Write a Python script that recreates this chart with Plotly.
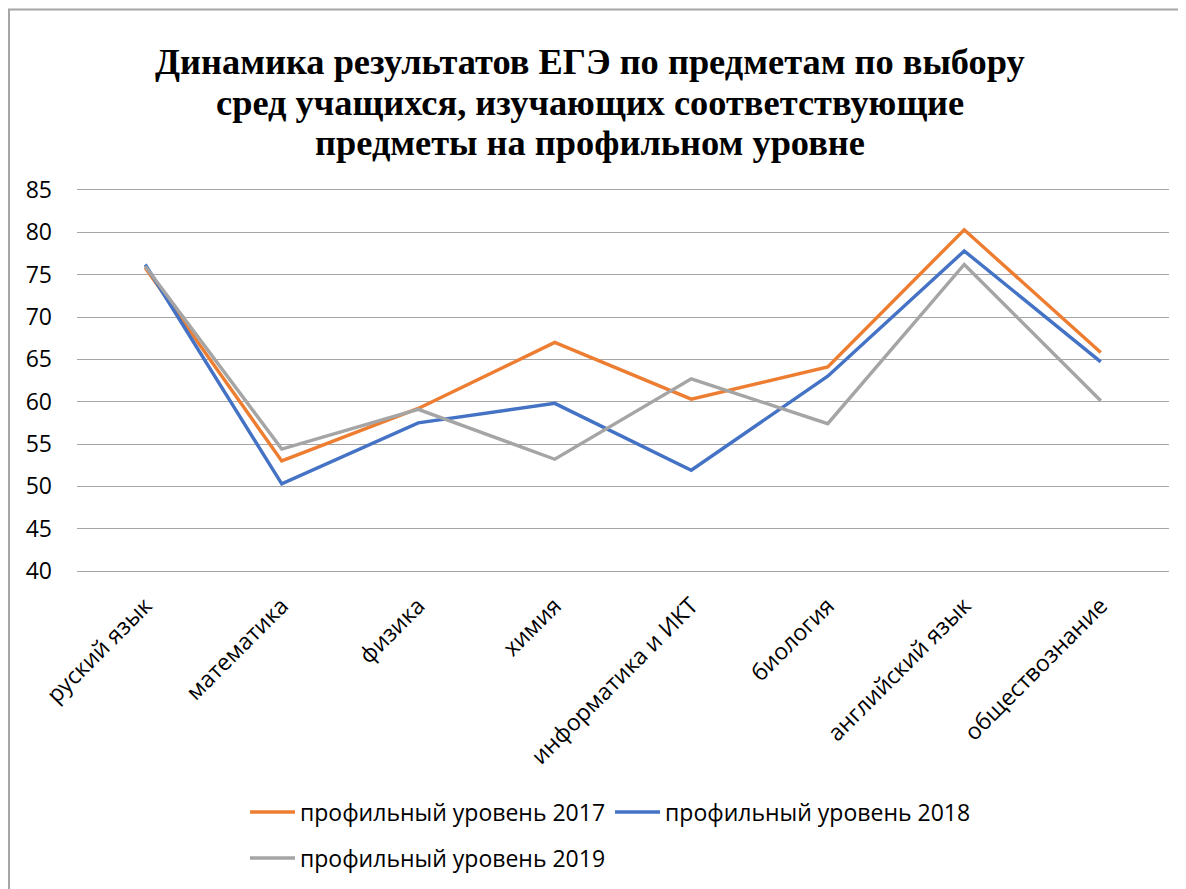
import plotly.graph_objects as go

categories = ["руский язык", "математика", "физика", "химия",
              "информатика и ИКТ", "биология", "английский язык", "обществознание"]
s2017 = [75.8, 53.0, 59.2, 67.0, 60.3, 64.1, 80.3, 65.8]
s2018 = [76.2, 50.3, 57.5, 59.8, 51.9, 63.0, 77.8, 64.7]
s2019 = [76.0, 54.4, 59.1, 53.2, 62.7, 57.4, 76.2, 60.1]
names = ["профильный уровень 2017", "профильный уровень 2018", "профильный уровень 2019"]
colors = ["#ED7D31", "#4472C4", "#A5A5A5"]
yticks = [40, 45, 50, 55, 60, 65, 70, 75, 80, 85]
title_lines = ["Динамика результатов ЕГЭ по предметам по выбору",
               "сред учащихся, изучающих соответствующие",
               "предметы на профильном уровне"]

W, H = 1186, 889
OFF = 8  # page body margin
PX0, PX1, PY0, PY1 = 77, 1169, 190, 571
L, R = PX0 - OFF, W - (PX1 - OFF)
T, B = PY0 - OFF, H - (PY1 - OFF)
pw, ph = W - L - R, H - T - B

def px(page_x):
    return (page_x - OFF - L) / pw

def py(page_y):
    return (H - B - (page_y - OFF)) / ph

fig = go.Figure()
for i, (vals, nm, col) in enumerate(zip([s2017, s2018, s2019], names, colors)):
    fig.add_trace(go.Scatter(
        x=categories, y=vals, name=nm, mode="lines",
        line=dict(color=col, width=3.4),
        legend="legend" if i < 2 else "legend2",
    ))

font_main = "Open Sans, Noto Sans, sans-serif"
FS = 23
GRID = "#a6a6a6"

annotations = []
for txt, yc in zip(title_lines, [62, 103, 143]):
    annotations.append(dict(
        text="<b>" + txt + "</b>", xref="paper", yref="paper", x=px(590), y=py(yc),
        xanchor="center", yanchor="middle", showarrow=False,
        font=dict(family="Liberation Serif, Times New Roman, serif", size=36.4, color="black"),
    ))

fig.update_layout(
    width=W, height=H,
    margin=dict(l=L, r=R, t=T, b=B),
    paper_bgcolor="white", plot_bgcolor="white",
    xaxis=dict(
        type="category", tickangle=-45, showgrid=False, zeroline=False,
        showline=True, mirror=True, linecolor=GRID, linewidth=1.3,
        ticks="", ticklabelstandoff=11,
        tickfont=dict(family=font_main, size=FS, color="black"),
        range=[-0.5, len(categories) - 0.5],
    ),
    yaxis=dict(
        range=[40, 85], tickvals=yticks, showgrid=True,
        gridcolor=GRID, gridwidth=1.3, zeroline=False, showline=False,
        ticks="", ticklabelstandoff=24,
        tickfont=dict(family=font_main, size=FS, color="black"),
    ),
    legend=dict(
        orientation="h", x=px(245), xanchor="left",
        y=py(812), yanchor="middle",
        font=dict(family=font_main, size=FS, color="black"),
        bgcolor="rgba(0,0,0,0)", itemwidth=45,
    ),
    legend2=dict(
        orientation="h", x=px(245), xanchor="left",
        y=py(858), yanchor="middle",
        font=dict(family=font_main, size=FS, color="black"),
        bgcolor="rgba(0,0,0,0)", itemwidth=45,
    ),
    showlegend=True,
    annotations=annotations,
    shapes=[dict(
        type="rect", xref="paper", yref="paper",
        x0=px(9), x1=px(W + 40),
        y0=py(H + 40), y1=py(9.5),
        line=dict(color="#a6a6a6", width=2), fillcolor="rgba(0,0,0,0)", layer="below",
    )],
)

fig.write_html("out.html")
